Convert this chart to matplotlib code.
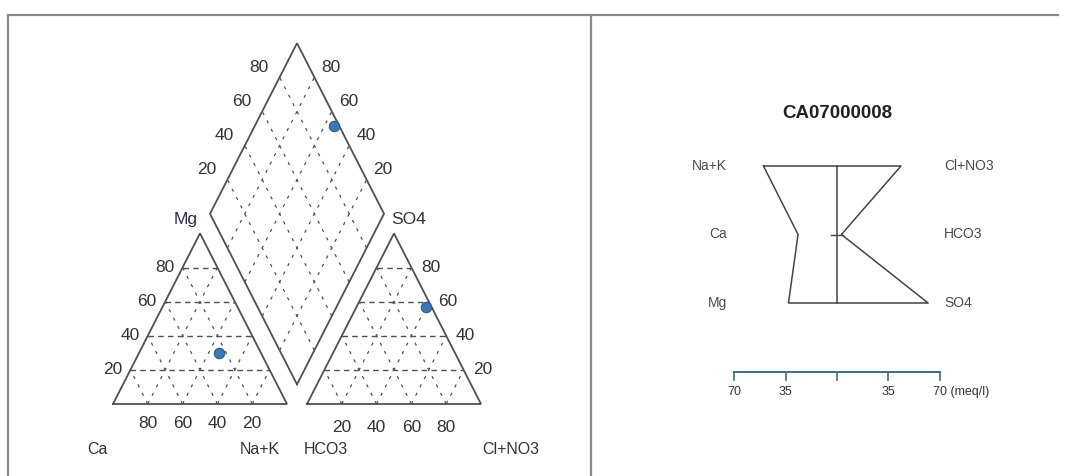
"""
Piper trilinear diagram + Stiff diagram for one sample, reproduced from a scanned report page.
Left panel: cation / anion triangles with the projected diamond. Right panel: Stiff polygon (meq/l).
"""
import numpy as np
import matplotlib
matplotlib.use("Agg")
import matplotlib.pyplot as plt
from matplotlib.lines import Line2D

W, H, DPI = 1091, 476, 100

# sample (meq/l)
SAMPLE = "CA07000008"
CATIONS = ["Na+K", "Ca", "Mg"]
CATION_MEQ = [50.0, 26.5, 33.0]
ANIONS = ["Cl+NO3", "HCO3", "SO4"]
ANION_MEQ = [43.5, 3.0, 62.0]

PCT_TICKS = [20, 40, 60, 80]
SCALE_TICKS = [-70, -35, 0, 35, 70]
SCALE_LABELS = ["70", "35", "", "35", "70 (meq/l)"]

LINE = "#505050"
TXT = "#333333"
DOT = "#3b78b4"
plt.rcParams["font.family"] = ["Liberation Sans", "DejaVu Sans"]

GAP = 0.115
S3 = np.sqrt(3) / 2


def cat_xy(na, mg):
    return na + mg / 2, mg * S3


def an_xy(cl, so4):
    return 1 + GAP + cl + so4 / 2, so4 * S3


def dia_xy(a, b):
    # a = Cl+SO4 fraction, b = Ca+Mg fraction
    bx, by = 1 + GAP / 2, GAP * S3
    return bx + 0.5 * (a - b), by + S3 * (a + b)


def seg(ax, p, q, **kw):
    ax.plot([p[0], q[0]], [p[1], q[1]], **kw)


fig = plt.figure(figsize=(W / DPI, H / DPI), dpi=DPI)

# ---------------- Piper ----------------
ax = fig.add_axes([0, 0, 1, 1])
X0, Y0, SX, SY = 113, 404, 174, 197      # pixel origin and px per unit
ax.set_xlim(-X0 / SX, (W - X0) / SX)
ax.set_ylim(-(H - Y0) / SY, Y0 / SY)
ax.axis("off")

hgrid = dict(color=LINE, lw=1.0, dashes=(4, 3))
sgrid = dict(color=LINE, lw=0.9, dashes=(2.5, 5))
for t in PCT_TICKS:
    p = t / 100
    # cation triangle
    seg(ax, cat_xy(0, p), cat_xy(1 - p, p), **hgrid)
    seg(ax, cat_xy(p, 0), cat_xy(p, 1 - p), **sgrid)
    seg(ax, cat_xy(1 - p, 0), cat_xy(0, 1 - p), **sgrid)
    # anion triangle
    seg(ax, an_xy(0, p), an_xy(1 - p, p), **hgrid)
    seg(ax, an_xy(p, 0), an_xy(p, 1 - p), **sgrid)
    seg(ax, an_xy(1 - p, 0), an_xy(0, 1 - p), **sgrid)
    # diamond
    seg(ax, dia_xy(p, 0), dia_xy(p, 1), **sgrid)
    seg(ax, dia_xy(0, p), dia_xy(1, p), **sgrid)

solid = dict(color=LINE, lw=1.3, solid_joinstyle="miter")
tri_c = [cat_xy(0, 0), cat_xy(1, 0), cat_xy(0, 1), cat_xy(0, 0)]
tri_a = [an_xy(0, 0), an_xy(1, 0), an_xy(0, 1), an_xy(0, 0)]
dia = [dia_xy(0, 0), dia_xy(1, 0), dia_xy(1, 1), dia_xy(0, 1), dia_xy(0, 0)]
for poly in (tri_c, tri_a, dia):
    xs, ys = zip(*poly)
    ax.plot(xs, ys, **solid)

# tick labels
fs = 12.5
for t in PCT_TICKS:
    p = t / 100
    ax.annotate(str(t), cat_xy(0, p), xytext=(-6, 0), textcoords="offset points",
                ha="right", va="center", fontsize=fs, color=TXT)
    # Ca % runs right-to-left along the cation base
    ax.annotate(str(100 - t), cat_xy(p, 0), xytext=(0, -14), textcoords="offset points",
                ha="center", va="center", fontsize=fs, color=TXT)
    ax.annotate(str(t), an_xy(1 - p, p), xytext=(7, 0), textcoords="offset points",
                ha="left", va="center", fontsize=fs, color=TXT)
    ax.annotate(str(t), an_xy(p, 0), xytext=(0, -17), textcoords="offset points",
                ha="center", va="center", fontsize=fs, color=TXT)
    ax.annotate(str(t), dia_xy(p, 1), xytext=(-8, 7), textcoords="offset points",
                ha="right", va="center", fontsize=fs, color=TXT)
    ax.annotate(str(t), dia_xy(1, p), xytext=(5, 7), textcoords="offset points",
                ha="left", va="center", fontsize=fs, color=TXT)

# axis names
ax.annotate("Mg", dia_xy(0, 1), xytext=(-9, -4), textcoords="offset points",
            ha="right", va="center", fontsize=fs, color="#2b2b55")
ax.annotate("SO4", dia_xy(1, 0), xytext=(5, -4), textcoords="offset points",
            ha="left", va="center", fontsize=fs, color=TXT)
ax.annotate("Ca", cat_xy(0, 0), xytext=(-11, -33), textcoords="offset points",
            ha="center", va="center", fontsize=fs - 1, color=TXT)
ax.annotate("Na+K", cat_xy(1, 0), xytext=(-5, -33), textcoords="offset points",
            ha="right", va="center", fontsize=fs - 1, color=TXT)
ax.annotate("HCO3", an_xy(0, 0), xytext=(-2, -33), textcoords="offset points",
            ha="left", va="center", fontsize=fs - 1, color=TXT)
ax.annotate("Cl+NO3", an_xy(1, 0), xytext=(1, -33), textcoords="offset points",
            ha="left", va="center", fontsize=fs - 1, color=TXT)

# sample point
cat = np.array(CATION_MEQ) / sum(CATION_MEQ)   # Na+K, Ca, Mg
an = np.array(ANION_MEQ) / sum(ANION_MEQ)      # Cl+NO3, HCO3, SO4
pts = [cat_xy(cat[0], cat[2]), an_xy(an[0], an[2]),
       dia_xy(an[0] + an[2], cat[1] + cat[2])]
for x, y in pts:
    ax.plot(x, y, "o", ms=7.5, color=DOT, mec="#2a5a8a", mew=0.8, zorder=5)

# ---------------- Stiff ----------------
ax2 = fig.add_axes([0, 0, 1, 1])
CX, PXM, R0, RS = 837, 1.47, 166, 68.5   # centre px, px per meq, first row px, row spacing
ax2.set_xlim(-CX / PXM, (W - CX) / PXM)
ax2.set_ylim((H - R0) / RS, -R0 / RS)
ax2.axis("off")
ax2.patch.set_alpha(0)

rows = np.arange(len(CATIONS))
px = list(-np.array(CATION_MEQ)) + list(np.array(ANION_MEQ)[::-1]) + [-CATION_MEQ[0]]
py = list(rows) + list(rows[::-1]) + [rows[0]]
ax2.plot(px, py, color="#444444", lw=1.1)
ax2.plot([0, 0], [rows[0], rows[-1]], color="#444444", lw=1.1)
ax2.plot([-4, 4], [rows[1], rows[1]], color="#444444", lw=1.0)

for r, (cn, an_) in enumerate(zip(CATIONS, ANIONS)):
    ax2.text(-75, r, cn, ha="right", va="center", fontsize=10, color="#4a4a4a")
    ax2.text(73, r, an_, ha="left", va="center", fontsize=10, color="#4a4a4a")

ax2.text(0, -0.77, SAMPLE, ha="center", va="center", fontsize=13.5,
         fontweight="bold", color="#222222")

# scale bar
bar_y = len(CATIONS)
ax2.plot([SCALE_TICKS[0], SCALE_TICKS[-1]], [bar_y, bar_y], color="#3d6f7f", lw=1.4)
for t, lab in zip(SCALE_TICKS, SCALE_LABELS):
    ax2.plot([t, t], [bar_y, bar_y + 0.12], color="#3d6f7f", lw=1.2)
    if not lab:
        continue
    if lab.startswith("70 ("):
        ax2.annotate(lab, (t, bar_y), xytext=(-5, -15), textcoords="offset points",
                     ha="left", va="center", fontsize=9, color="#333333")
    else:
        ax2.annotate(lab, (t, bar_y), xytext=(0, -15), textcoords="offset points",
                     ha="center", va="center", fontsize=9, color="#333333")

# ---------------- page frame ----------------
def fx(p):
    return p / W


def fy(p):
    return 1 - p / H


frame = dict(color="#8a8a8a", lw=1.6)
fig.add_artist(Line2D([fx(8), fx(1058)], [fy(15), fy(15)], **frame))
fig.add_artist(Line2D([fx(8), fx(8)], [fy(15), fy(476)], **frame))
fig.add_artist(Line2D([fx(591), fx(591)], [fy(15), fy(476)], **frame))

fig.savefig("out.png", dpi=DPI)
